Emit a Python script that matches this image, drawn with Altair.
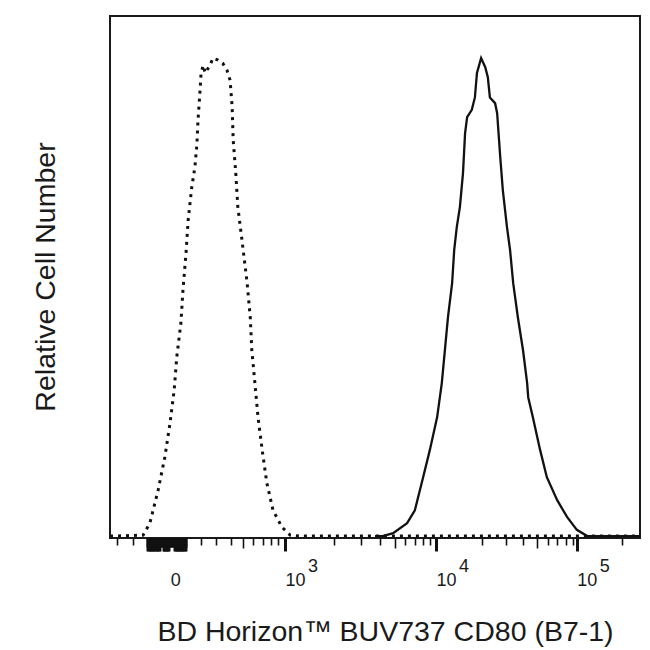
import altair as alt
import pandas as pd

# Histogram of the isotype control (dotted) - channel, relative count
dotted_ch = [0, 4, 64, 77, 93, 106, 116, 124, 129, 137, 141, 147, 151, 158, 164, 168, 170, 174,
             176, 180, 184, 193, 199, 209, 218, 226, 232, 236, 238, 243, 247, 255, 265, 271,
             274, 280, 286, 294, 303, 315, 332, 348, 367, 1024]
dotted_y = [0, 0, 0.2, 2.7, 9.6, 16.5, 23.6, 30.5, 37.4, 44.5, 51.4, 59.3, 66.0, 72.9, 77.0,
            82.0, 86.8, 93.1, 96.7, 98.3, 96.7, 98.3, 99.8, 99.4, 98.7, 97.3, 95.2, 89.6, 82.7,
            75.8, 68.7, 61.8, 52.8, 45.7, 38.8, 31.9, 24.8, 18.0, 11.1, 5.4, 1.9, 0.2, 0, 0]

# Histogram of the CD80 stained cells (solid)
solid_ch = [512, 527, 547, 574, 589, 605, 618, 632, 641, 647, 653, 661, 665, 670, 676, 682, 686,
            690, 699, 705, 709, 717, 725, 730, 734, 744, 748, 754, 759, 767, 773, 779, 788, 798,
            806, 808, 817, 831, 844, 864, 883, 902, 922, 947, 1024]
solid_y = [0, 0, 0.6, 2.7, 5.4, 12.3, 18.0, 24.8, 31.9, 38.8, 45.7, 52.8, 59.7, 64.5, 68.7, 75.8,
           84.1, 87.5, 89.0, 91.6, 96.7, 99.8, 97.9, 95.8, 91.6, 90.4, 88.3, 79.1, 72.2, 64.5,
           59.7, 52.8, 45.7, 38.8, 31.9, 29.0, 24.8, 18.0, 12.3, 7.5, 4.0, 1.3, 0, 0, 0]

# Axis tick positions (channel units) and labels
minor_ticks = [13.5, 44, 176, 205, 234, 276, 296, 311, 325, 433, 485, 522, 570, 589, 605, 618,
               719, 765, 798, 846, 864, 881, 895, 989]
medium_ticks = [257, 551, 825]
major_ticks = [338, 630, 902]
zero_ticks = [72, 73.5, 75, 76.5, 78, 79.5, 81, 82.5, 84, 85.5, 87, 88.5, 90, 91.5, 93, 94.5,
              96, 97.5, 99, 100.5, 102, 103.5, 105, 106.5, 108, 109.5, 111, 112.5, 114, 115.5,
              117, 118.5, 120, 121.5, 123, 124.5, 126, 127.5, 129, 130.5, 132, 133.5, 135,
              136.5, 138, 139.5, 141, 142.5, 144, 145.5, 147]
zero_long_ticks = [72, 73.5, 75, 76.5, 78, 79.5, 81, 82.5, 84, 85.5, 87, 88.5, 90, 91.5, 93,
                   94.5, 96, 102, 103.5, 105, 106.5, 108, 109.5, 111, 112.5, 114, 124, 125.5,
                   127, 128.5, 130, 131.5, 133, 134.5, 136, 137.5, 139, 140.5, 142, 143.5, 145,
                   146.5]
zero_label_pos = [126]
decade_exponents = ["3", "4", "5"]

x_title = "BD Horizon™ BUV737 CD80 (B7-1)"
y_title = "Relative Cell Number"

FONT = "Liberation Sans"
INK = "#1a1a1a"
TITLE_SIZE = 28.5
LABEL_SIZE = 18

dotted_df = pd.DataFrame({"ch": dotted_ch, "y": dotted_y})
solid_df = pd.DataFrame({"ch": solid_ch, "y": solid_y})
base_df = pd.DataFrame({"ch": [0, 1024], "y": [0, 0]})
exp_df = pd.DataFrame({"ch": major_ticks, "label": decade_exponents})
ytitle_df = pd.DataFrame({"t": [y_title]})

xscale = alt.Scale(domain=[0, 1024], nice=False, zero=False)
yscale = alt.Scale(domain=[-0.4, 108.6], nice=False, zero=False)

dotted = alt.Chart(dotted_df).mark_line(
    color="#111111", strokeWidth=3, strokeDash=[3, 5], strokeCap="butt"
).encode(
    x=alt.X("ch:Q", scale=xscale, axis=None),
    y=alt.Y("y:Q", scale=yscale, axis=None),
)

solid = alt.Chart(solid_df).mark_line(color="#111111", strokeWidth=2.3).encode(
    x=alt.X("ch:Q", scale=xscale, axis=None),
    y=alt.Y("y:Q", scale=yscale, axis=None),
)

exponents = alt.Chart(exp_df).mark_text(
    align="left", baseline="alphabetic", dx=23, font=FONT, fontSize=LABEL_SIZE, color=INK
).encode(
    x=alt.X("ch:Q", scale=xscale, axis=None),
    y=alt.value(522 + 34),
    text="label:N",
)

ytitle = alt.Chart(ytitle_df).mark_text(
    angle=270, align="center", baseline="alphabetic", font=FONT, fontSize=TITLE_SIZE,
    color=INK
).encode(
    x=alt.value(-55),
    y=alt.value(261),
    text="t:N",
)


def axis_layer(axis):
    return alt.Chart(base_df).mark_point(opacity=0).encode(
        x=alt.X("ch:Q", scale=xscale, axis=axis),
        y=alt.Y("y:Q", scale=yscale, axis=None),
    )


def tick_axis(values, size, width):
    return alt.Axis(values=values, orient="bottom", labels=False, domain=False, grid=False,
                    title=None, tickSize=size, tickWidth=width, tickColor="#111111")


def label_axis(values, expr, padding, align, title=None):
    kw = dict(values=values, orient="bottom", ticks=False, tickSize=0, domain=False,
              grid=False, labelExpr=expr, labelPadding=padding,
              labelAlign=align, labelBaseline="alphabetic", labelFont=FONT,
              labelFontSize=LABEL_SIZE, labelColor=INK, labelOverlap=False,
              labelFlush=False)
    if title:
        kw.update(title=title, titleFont=FONT, titleFontSize=TITLE_SIZE,
                  titleFontWeight="normal", titleColor=INK, titleX=275, titleY=102,
                  titleAlign="center", titleBaseline="alphabetic", titleAngle=0)
    else:
        kw.update(title=None)
    return alt.Axis(**kw)


layers = [
    axis_layer(tick_axis(minor_ticks, 7, 1.6)),
    axis_layer(tick_axis(medium_ticks, 10, 1.6)),
    axis_layer(tick_axis(major_ticks, 13, 3)),
    axis_layer(tick_axis(zero_ticks, 9, 2)),
    axis_layer(tick_axis(zero_long_ticks, 13, 2)),
    axis_layer(label_axis(zero_label_pos, "'0'", 47, "center")),
    axis_layer(label_axis(major_ticks, "'10'", 47, "left", title=x_title)),
    dotted,
    solid,
    exponents,
    ytitle,
]

chart = alt.layer(*layers).resolve_axis(x="independent").properties(
    width=530, height=522,
    autosize=alt.AutoSizeParams(type="none"),
    padding={"left": 102, "top": 8, "right": 2, "bottom": 110},
).configure_view(stroke="#1a1a1a", strokeWidth=2).configure_axis(grid=False)

chart.save("out.html", embed_options={"renderer": "svg", "actions": False})
